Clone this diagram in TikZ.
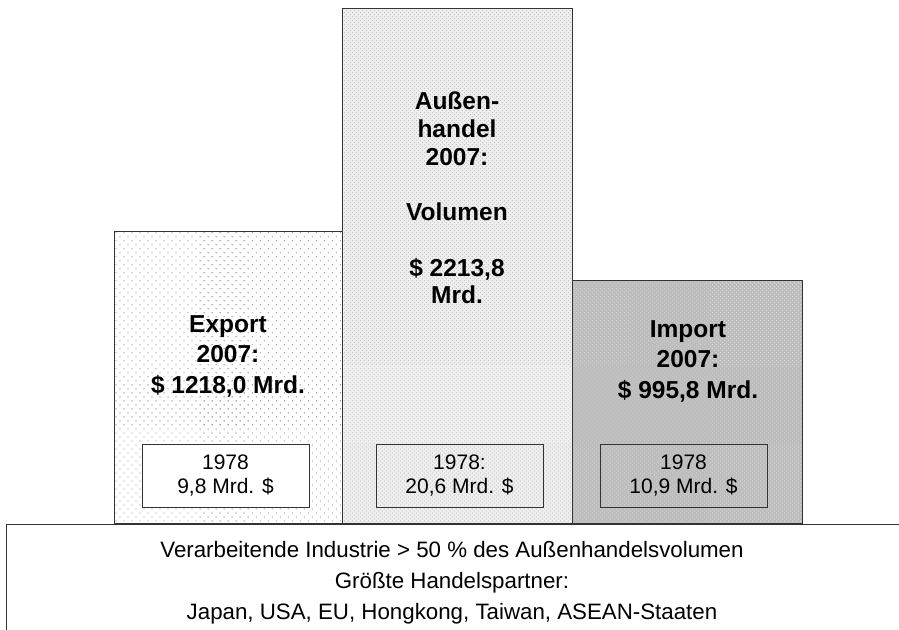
\documentclass[tikz,border=0pt]{standalone}
\usepackage{fontspec}
\setmainfont{Liberation Sans}
\usetikzlibrary{patterns.meta}
\tikzset{
  bigbox/.style={draw=black!80, line width=1pt, anchor=north west, inner sep=0pt},
  smallbox/.style={draw=black!80, line width=1pt, minimum width=167pt, minimum height=63pt, inner sep=0pt},
  boldtxt/.style={font=\fontsize{24.5}{30.5}\selectfont\bfseries, align=center, inner sep=0pt},
  smalltxt/.style={font=\fontsize{21}{24}\selectfont, align=center, inner sep=0pt},
  bottxt/.style={font=\fontsize{22.3}{24}\selectfont, anchor=base, inner sep=0pt}
}
\begin{document}
\begin{tikzpicture}[x=1pt,y=-1pt]
\useasboundingbox (0,0) rectangle (899,629);
% big bars
\node[bigbox, minimum width=228pt, minimum height=292pt,
  pattern={Dots[distance=5.66pt, angle=45, radius=0.55pt]}, pattern color=black!75] (exp) at (114,231) {};
\node[bigbox, minimum width=230pt, minimum height=515pt,
  preaction={fill=black!6},
  pattern={Dots[distance=2.83pt, angle=45, radius=0.5pt]}, pattern color=black!45] (vol) at (342,8) {};
\node[bigbox, minimum width=230pt, minimum height=243pt,
  preaction={fill=black!26},
  pattern={Dots[distance=2.83pt, angle=45, radius=0.5pt]}, pattern color=white!90!black] (imp) at (572,280) {};
% bottom box
\node[bigbox, fill=white, minimum width=920pt, minimum height=130pt] (base) at (6,524) {};
% big texts
\node[boldtxt] (exptxt) at (228,356) {Export\\2007:\\\$ 1218,0 Mrd.};
\node[boldtxt, font=\fontsize{24.5}{27.7}\selectfont\bfseries] (voltxt) at (457,198) {Au\ss en-\\handel\\2007:\\[27.7pt]Volumen\\[27.7pt]\$ 2213,8\\Mrd.};
\node[boldtxt] (imptxt) at (688,361) {Import\\2007:\\\$ 995,8 Mrd.};
% small boxes
\node[smallbox, fill=white] (exps) at (225.5,475.5) {};
\node[smallbox] (vols) at (459.5,475.5) {};
\node[smallbox] (imps) at (683.5,475.5) {};
\node[smalltxt] (expst) at (exps) {1978\\9,8 Mrd. \$};
\node[smalltxt] (volst) at (vols) {1978:\\20,6 Mrd. \$};
\node[smalltxt] (impst) at (imps) {1978\\10,9 Mrd. \$};
% bottom texts
\node[bottxt] (b1) at (452,557) {Verarbeitende Industrie > 50 \% des Au\ss enhandelsvolumen};
\node[bottxt] (b2) at (452,588) {Gr\"o\ss te Handelspartner:};
\node[bottxt] (b3) at (452,619) {Japan, USA, EU, Hongkong, Taiwan, ASEAN-Staaten};
\end{tikzpicture}
\end{document}
